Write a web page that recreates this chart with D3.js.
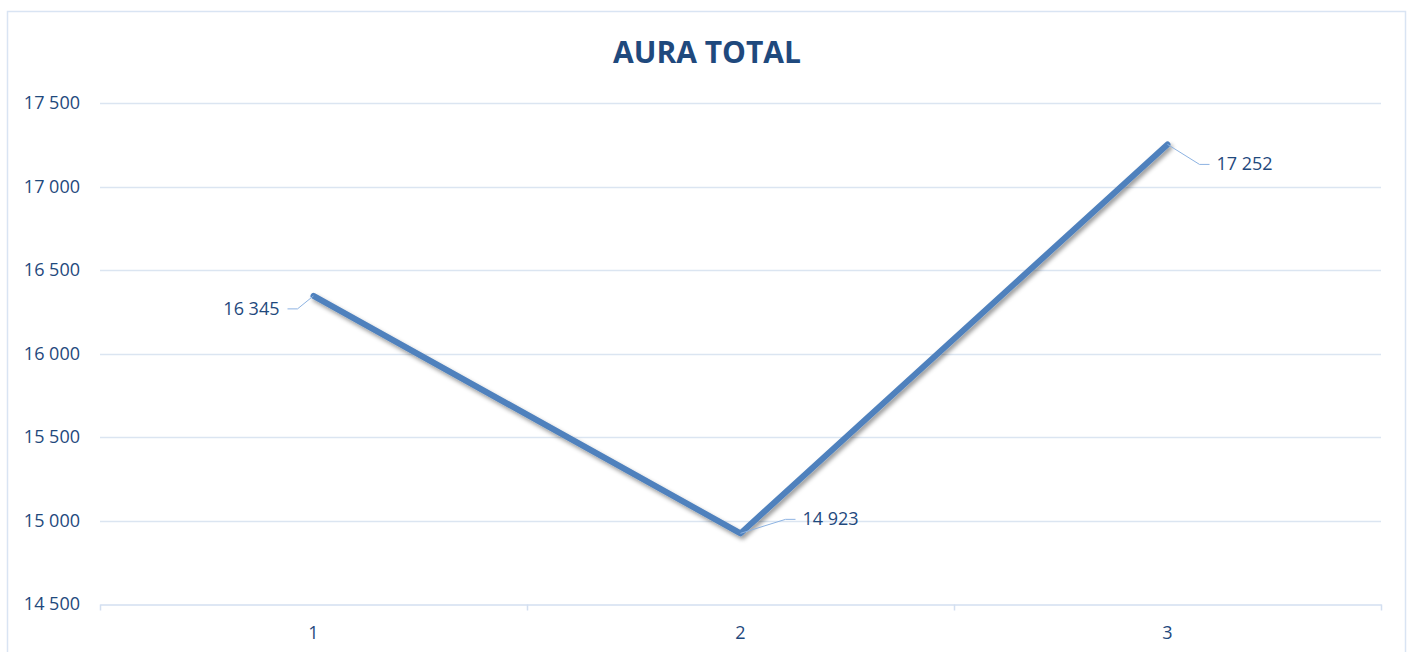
<!DOCTYPE html>
<html>
<head>
<meta charset="utf-8">
<script src="https://cdn.jsdelivr.net/npm/d3@7"></script>
<style>
  body { margin: 0; background: #fff; }
  text { font-family: "Open Sans", sans-serif; }
</style>
</head>
<body>
<div id="chart"></div>
<script>
// data
const categories = ["1", "2", "3"];
const values = [16345, 14923, 17252];
const yTicks = [14500, 15000, 15500, 16000, 16500, 17000, 17500];
const chartTitle = "AURA TOTAL";

const W = 1411, H = 652;
const margin = { left: 100, right: 30, top: 103, bottom: 48 };

const svg = d3.select("#chart").append("svg")
  .attr("width", W)
  .attr("height", H);

// drop shadow for the line
const defs = svg.append("defs");
const f = defs.append("filter").attr("id", "shadow")
  .attr("x", "-5%").attr("y", "-5%").attr("width", "110%").attr("height", "120%");
f.append("feDropShadow")
  .attr("dx", 2).attr("dy", 3).attr("stdDeviation", 2)
  .attr("flood-color", "#000").attr("flood-opacity", 0.4);

// chart frame
svg.append("rect")
  .attr("x", 7.5).attr("y", 11.5)
  .attr("width", 1398).attr("height", 660)
  .attr("fill", "#fff")
  .attr("stroke", "#d9e4f3")
  .attr("stroke-width", 1.5);

svg.append("text")
  .attr("x", 707).attr("y", 63)
  .attr("text-anchor", "middle")
  .attr("font-size", 30)
  .attr("font-weight", "bold")
  .attr("fill", "#1f497d")
  .text(chartTitle);

const x = d3.scaleBand()
  .domain(categories)
  .range([margin.left, W - margin.right]);

const y = d3.scaleLinear()
  .domain([14500, 17500])
  .range([H - margin.bottom, margin.top]);

// gridlines
svg.append("g")
  .selectAll("line")
  .data(yTicks.slice(1))
  .join("line")
  .attr("x1", margin.left).attr("x2", W - margin.right)
  .attr("y1", d => Math.round(y(d)) + 0.5)
  .attr("y2", d => Math.round(y(d)) + 0.5)
  .attr("stroke", "#dbe5f1")
  .attr("stroke-width", 1.5);

const fmt = v => d3.format(",")(v).replace(",", " ");

// y axis labels
const yAxis = svg.append("g")
  .attr("transform", `translate(${margin.left},0)`)
  .call(d3.axisLeft(y).tickValues(yTicks).tickSize(0).tickPadding(20).tickFormat(fmt));
yAxis.select(".domain").remove();
yAxis.selectAll("text")
  .attr("font-size", 18)
  .attr("font-family", "Open Sans, sans-serif")
  .attr("fill", "#1f497d");

// x axis
const xAxis = svg.append("g")
  .attr("transform", `translate(0,${Math.round(y(14500)) + 0.5})`)
  .call(d3.axisBottom(x).tickSize(0).tickPadding(22));
xAxis.select(".domain")
  .attr("stroke", "#d3dff0")
  .attr("stroke-width", 1.5);
xAxis.selectAll("text")
  .attr("font-size", 18)
  .attr("font-family", "Open Sans, sans-serif")
  .attr("fill", "#1f497d");

// tick marks between categories
const edges = categories.map(c => x(c)).concat([x(categories[categories.length - 1]) + x.bandwidth()]);
xAxis.selectAll(".edge")
  .data(edges)
  .join("line")
  .attr("class", "edge")
  .attr("x1", d => Math.round(d) + 0.5).attr("x2", d => Math.round(d) + 0.5)
  .attr("y1", 0).attr("y2", 6)
  .attr("stroke", "#d3dff0")
  .attr("stroke-width", 1.5);

const cx = d => x(d) + x.bandwidth() / 2;

// line
const line = d3.line()
  .x((d, i) => cx(categories[i]))
  .y(d => y(d));

svg.append("path")
  .datum(values)
  .attr("d", line)
  .attr("fill", "none")
  .attr("stroke", "#4f81bd")
  .attr("stroke-width", 6)
  .attr("stroke-linejoin", "round")
  .attr("stroke-linecap", "round")
  .attr("filter", "url(#shadow)");

// data labels with leader lines (dx, dy offsets of label)
const labelPos = [
  { dx: -26, dy: 13, anchor: "end" },
  { dx: 55, dy: -14, anchor: "start" },
  { dx: 42, dy: 20, anchor: "start" }
];

const lab = svg.append("g")
  .selectAll("g")
  .data(values)
  .join("g")
  .attr("transform", (d, i) => `translate(${cx(categories[i])},${y(d)})`);

lab.append("polyline")
  .attr("points", (d, i) => {
    const p = labelPos[i];
    const k = p.anchor === "end" ? 10 : -10;
    return `0,0 ${p.dx + k},${p.dy} ${p.dx},${p.dy}`;
  })
  .attr("fill", "none")
  .attr("stroke", "#8db3e2")
  .attr("stroke-width", 1);

lab.append("text")
  .attr("x", (d, i) => labelPos[i].dx + (labelPos[i].anchor === "end" ? -8 : 7))
  .attr("y", (d, i) => labelPos[i].dy + 6)
  .attr("text-anchor", (d, i) => labelPos[i].anchor)
  .attr("font-size", 18)
  .attr("fill", "#1f497d")
  .text(d => fmt(d));
</script>
</body>
</html>
